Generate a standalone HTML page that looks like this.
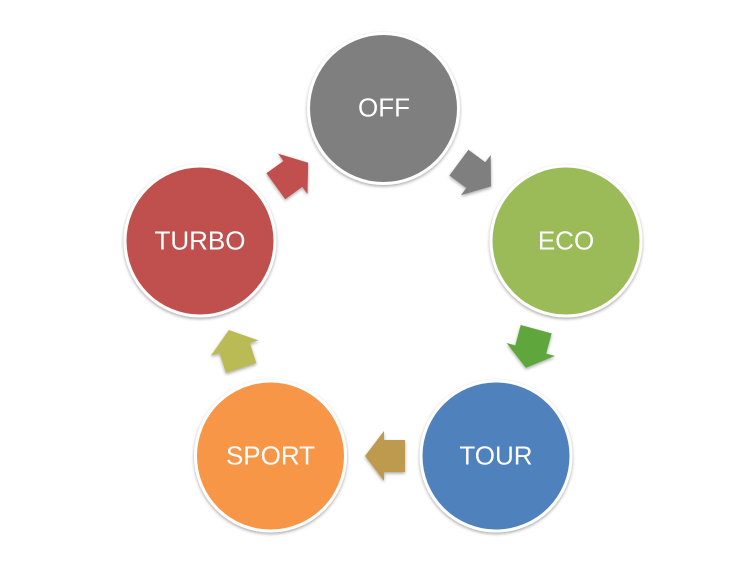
<!DOCTYPE html>
<html>
<head>
<meta charset="utf-8">
<style>
  html, body { margin: 0; padding: 0; background: #ffffff; }
  body { width: 752px; height: 564px; overflow: hidden; }
  svg { display: block; }
  text { font-family: "Liberation Sans", "DejaVu Sans", sans-serif; font-size: 26px; fill: #ffffff; }
</style>
</head>
<body>
<svg width="752" height="564" viewBox="0 0 752 564" xmlns="http://www.w3.org/2000/svg">
  <defs>
    <filter id="sh" x="-20%" y="-20%" width="140%" height="140%">
      <feGaussianBlur in="SourceAlpha" stdDeviation="1.6"/>
      <feOffset dx="0" dy="1.5" result="b"/>
      <feComponentTransfer><feFuncA type="linear" slope="0.35"/></feComponentTransfer>
      <feMerge><feMergeNode/><feMergeNode in="SourceGraphic"/></feMerge>
    </filter>
    <polygon id="arr" points="20,0 1,-25 1,-16 -20,-16 -20,16 1,16 1,25"/>
  </defs>

  <!-- Arrows -->
  <g filter="url(#sh)">
    <use href="#arr" fill="#7f7f7f" transform="translate(475,174.5) rotate(36.5)"/>
    <use href="#arr" fill="#5fa73e" transform="translate(531,348.5) rotate(105)"/>
    <use href="#arr" fill="#be9a50" transform="translate(385,456) rotate(180)"/>
    <use href="#arr" fill="#bbbb55" transform="translate(235,349) rotate(-108)"/>
    <use href="#arr" fill="#c0504d" transform="translate(292,174.5) rotate(-36)"/>
  </g>

  <!-- Circles -->
  <g filter="url(#sh)">
    <circle cx="383.5" cy="108.5" r="76.5" fill="#ffffff"/>
    <circle cx="566" cy="241" r="76.5" fill="#ffffff"/>
    <circle cx="496" cy="456" r="76.5" fill="#ffffff"/>
    <circle cx="270.5" cy="456" r="76.5" fill="#ffffff"/>
    <circle cx="200" cy="241" r="76.5" fill="#ffffff"/>
  </g>
  <circle cx="383.5" cy="108.5" r="73.5" fill="#7f7f7f"/>
  <circle cx="566" cy="241" r="73.5" fill="#9bbb59"/>
  <circle cx="496" cy="456" r="73.5" fill="#4f81bd"/>
  <circle cx="270.5" cy="456" r="73.5" fill="#f79646"/>
  <circle cx="200" cy="241" r="73.5" fill="#c0504d"/>

  <!-- Labels -->
  <text x="384" y="116.5" text-anchor="middle">OFF</text>
  <text x="566" y="249.5" text-anchor="middle">ECO</text>
  <text x="496" y="464.5" text-anchor="middle">TOUR</text>
  <text x="270.5" y="464.5" text-anchor="middle">SPORT</text>
  <text x="200" y="249.5" text-anchor="middle">TURBO</text>
</svg>
</body>
</html>
